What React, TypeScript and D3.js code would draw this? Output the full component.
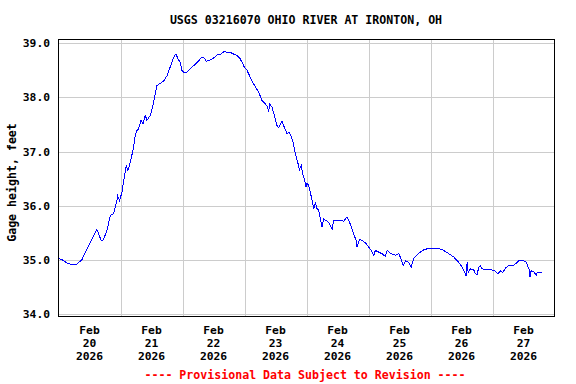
import React from "react";
import * as d3 from "d3";

const TITLE = "USGS 03216070 OHIO RIVER AT IRONTON, OH";
const Y_LABEL = "Gage height, feet";
const FOOTER = "---- Provisional Data Subject to Revision ----";

// hours since 2026-02-20 00:00
const hours = [
  0, 0.05, 1.32, 3.25, 5.19, 7.13, 9.06, 10.39, 12.32, 14.26, 14.87, 15.49, 16.54, 17.43, 18.75, 20.03,
  21.3, 22.62, 22.85, 23.63, 24.56, 25.45, 26.22, 26.88, 27.77, 28.82, 29.71, 30.37, 30.99, 31.92, 32.69,
  33.58, 34.24, 35.52, 36.57, 37.46, 38.12, 39.39, 40.67, 41.99, 43.0, 43.93, 44.55, 45.47, 46.25, 47.14,
  47.8, 48.69, 49.74, 50.74, 51.67, 52.95, 54.23, 55.16, 56.17, 57.21, 58.1, 59.42, 60.7, 61.59, 62.91,
  64.18, 65.23, 66.51, 67.79, 69.1, 70.11, 71.04, 71.93, 72.98, 74.26, 75.53, 77.47, 78.79, 80.07, 80.96,
  81.34, 81.73, 82.66, 83.55, 84.6, 85.22, 86.53, 87.15, 88.47, 89.09, 89.75, 90.64, 91.69, 92.73, 93.24,
  94.01, 94.51, 95.29, 95.83, 96.22, 96.84, 97.5, 98.15, 98.77, 99.43, 100.09, 100.71, 101.37, 102.03,
  102.65, 103.58, 104.58, 105.24, 105.9, 106.52, 107.84, 109.12, 110.4, 111.71, 112.33, 113.38, 114.27,
  115.2, 115.59, 116.48, 117.75, 119.07, 120.08, 121.12, 122.01, 122.67, 123.95, 125.27, 126.54, 127.2,
  128.48, 130.42, 131.7, 132.36, 133.4, 134.3, 135.57, 136.5, 137.51, 139.45, 141.38, 143.32, 145.26,
  147.19, 149.13, 151.07, 153.0, 154.94, 156.26, 157.15, 157.81, 158.19, 158.58, 159.47, 160.75, 161.41,
  162.06, 162.68, 163.34, 164.0, 165.94, 167.87, 169.15, 170.04, 171.09, 171.98, 173.03, 174.3, 176.24,
  177.56, 178.18, 180.12, 181.16, 181.67, 182.44, 182.5, 182.98, 183.99, 184.92, 185.3, 186.58, 187.24,
];

const gage = [
  35.11, 35.03, 35.01, 34.95, 34.92, 34.93, 35.01, 35.15, 35.33, 35.52, 35.57, 35.49, 35.36, 35.38, 35.55, 35.82,
  35.86, 36.1, 36.19, 36.1, 36.25, 36.53, 36.75, 36.65, 36.81, 37.02, 37.3, 37.39, 37.42, 37.58, 37.51,
  37.67, 37.58, 37.67, 37.85, 38.07, 38.22, 38.26, 38.3, 38.4, 38.53, 38.65, 38.74, 38.8, 38.71, 38.65,
  38.5, 38.45, 38.47, 38.51, 38.56, 38.61, 38.67, 38.73, 38.74, 38.67, 38.68, 38.71, 38.75, 38.79, 38.8,
  38.85, 38.83, 38.83, 38.8, 38.77, 38.73, 38.65, 38.56, 38.5, 38.37, 38.25, 38.1, 37.94, 37.88, 37.82,
  37.73, 37.88, 37.82, 37.67, 37.48, 37.44, 37.56, 37.48, 37.33, 37.36, 37.32, 37.21, 36.96, 36.78, 36.67,
  36.75, 36.59, 36.47, 36.35, 36.42, 36.38, 36.25, 36.1, 35.95, 36.05, 35.95, 35.92, 35.76, 35.61,
  35.76, 35.73, 35.7, 35.64, 35.57, 35.73, 35.74, 35.74, 35.72, 35.8, 35.74, 35.61, 35.49,
  35.36, 35.24, 35.38, 35.36, 35.31, 35.24, 35.18, 35.09, 35.18, 35.15, 35.12, 35.07, 35.18,
  35.13, 35.09, 35.12, 35.05, 34.9, 34.99, 34.96, 34.87, 35.03, 35.13, 35.19, 35.22, 35.22,
  35.22, 35.18, 35.12, 35.06, 34.96, 34.87, 34.78, 34.71, 34.96, 34.78, 34.84, 34.82, 34.75,
  34.74, 34.87, 34.9, 34.84, 34.83, 34.82, 34.8, 34.75, 34.8, 34.77, 34.86, 34.9, 34.91,
  34.96, 34.99, 34.99, 34.96, 34.88, 34.81, 34.69, 34.81, 34.79, 34.72, 34.78, 34.77, 34.77,
];

const yTicks = [34, 35, 36, 37, 38, 39];
const dayLabels = ["20", "21", "22", "23", "24", "25", "26", "27"];
const monthLabel = "Feb";
const yearLabel = "2026";

const W = 576;
const H = 384;
const L = 58.5;
const R = 554.5;
const T = 39.5;
const B = 316.5;
const FONT = "'DejaVu Sans Mono', 'Liberation Mono', monospace";

const start = Date.UTC(2026, 1, 20);
const HOUR = 3600 * 1000;
const DAY = 24 * HOUR;

export default function App() {
  const x = d3.scaleUtc().domain([new Date(start), new Date(start + 8 * DAY)]).range([L, R]);
  const y = d3.scaleLinear().domain([33.963, 39.068]).range([B, T]);
  const pts = hours.map((h, i) => [x(new Date(start + h * HOUR)), y(gage[i])] as [number, number]);
  const line = d3.line<[number, number]>().x((d) => d[0]).y((d) => d[1]);
  const midnights = d3.range(1, 8).map((d) => new Date(start + d * DAY));
  const noons = dayLabels.map((_, i) => new Date(start + i * DAY + 12 * HOUR));
  const px = (v: number) => Math.round(v) + 0.5;

  return (
    <svg
      width={W}
      height={H}
      style={{ position: "absolute", left: 0, top: 0, background: "#fff" }}
      fontFamily={FONT}
      fontWeight="bold"
    >
      <rect x={0} y={0} width={W} height={H} fill="#fff" />
      <text x={306} y={24} textAnchor="middle" fontSize={11.6} fill="#000">
        {TITLE}
      </text>
      {yTicks.map((t) => (
        <line key={"gy" + t} x1={L} x2={R} y1={px(y(t))} y2={px(y(t))} stroke="#cccccc" strokeWidth={1} shapeRendering="crispEdges" />
      ))}
      {midnights.map((d, i) => (
        <line key={"gx" + i} x1={px(x(d))} x2={px(x(d))} y1={T} y2={B} stroke="#cccccc" strokeWidth={1} shapeRendering="crispEdges" />
      ))}
      <path d={line(pts) || ""} fill="none" stroke="#0000ff" strokeWidth={1} shapeRendering="crispEdges" />
      <rect x={L} y={T} width={R - L} height={B - T} fill="none" stroke="#000" strokeWidth={1} shapeRendering="crispEdges" />
      {yTicks.map((t) => (
        <text key={"yl" + t} x={50} y={y(t) + 4} textAnchor="end" fontSize={11.3} fill="#000">
          {t.toFixed(1)}
        </text>
      ))}
      {noons.map((d, i) => (
        <g key={"xl" + i}>
          <text x={x(d)} y={334} textAnchor="middle" fontSize={11.3} fill="#000">
            {monthLabel}
          </text>
          <text x={x(d)} y={347} textAnchor="middle" fontSize={11.3} fill="#000">
            {dayLabels[i]}
          </text>
          <text x={x(d)} y={360} textAnchor="middle" fontSize={11.3} fill="#000">
            {yearLabel}
          </text>
        </g>
      ))}
      <text
        transform={`translate(16,182.5) rotate(-90)`}
        textAnchor="middle"
        fontSize={11.6}
        fill="#000"
      >
        {Y_LABEL}
      </text>
      <text x={305} y={379} textAnchor="middle" fontSize={11.6} fill="#ff0000">
        {FOOTER}
      </text>
    </svg>
  );
}
